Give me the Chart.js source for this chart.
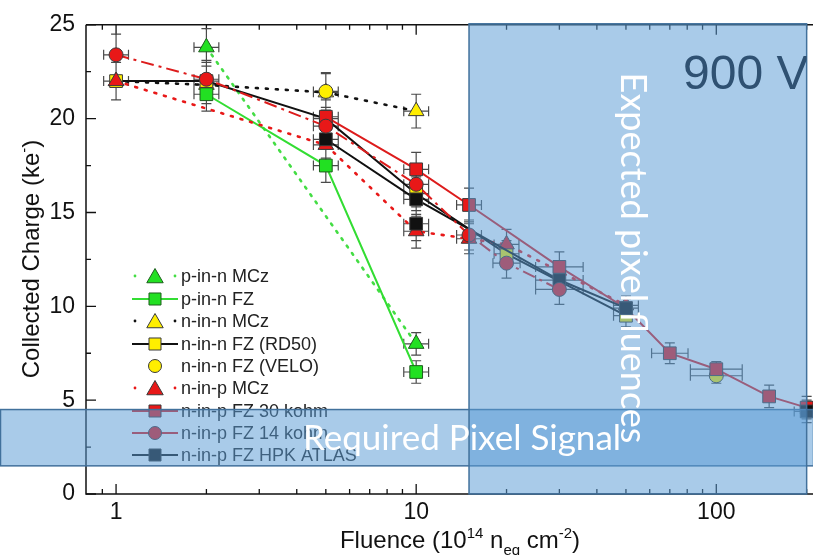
<!DOCTYPE html>
<html>
<head>
<meta charset="utf-8">
<script src="https://cdn.jsdelivr.net/npm/chart.js@4.4.0/dist/chart.umd.min.js"></script>
<style>
  html, body { margin: 0; padding: 0; background: #fff; }
  canvas { display: block; }
</style>
</head>
<body>
<canvas id="chargeChart" width="813" height="555"></canvas>
<script>
// Fluence in 10^14 neq/cm2, collected charge in ke-
const pinnMczX = [2, 10];
const pinnMczY = [23.8, 8.0];
const pinnMczErr = [1.0, 0.6];

const pinnFzX = [2, 5, 10];
const pinnFzY = [21.3, 17.5, 6.5];
const pinnFzErr = [0.9, 0.9, 0.6];

const ninnMczX = [1, 2, 5, 10];
const ninnMczY = [22.0, 21.8, 21.4, 20.4];
const ninnMczErr = [1.0, 1.0, 1.0, 0.9];

const rd50X = [1, 2, 5, 10, 20, 50];
const rd50Y = [22.0, 22.0, 20.0, 16.0, 12.8, 9.5];
const rd50Err = [1.0, 1.0, 1.0, 0.9, 0.7, 0.6];

const veloX = [5, 100];
const veloY = [21.45, 6.3];
const veloErr = [1.0, 0.4];
const veloXErr = [0.1, 0.22];

const ninpMczX = [1, 5, 10, 15, 20, 50];
const ninpMczY = [22.0, 18.6, 14.0, 13.6, 13.3, 10.05];
const ninpMczErr = [1.0, 1.0, 0.9, 0.8, 0.8, 0.5];

const fz30X = [5, 10, 15, 30, 50, 70, 100, 150, 200];
const fz30Y = [20.1, 17.3, 15.4, 12.1, 9.9, 7.5, 6.65, 5.2, 4.6];
const fz30Err = [1.0, 0.9, 0.9, 0.8, 0.5, 0.55, 0.4, 0.6, 0.6];
const fz30XErr = [0.1, 0.1, 0.1, 0.2, 0.1, 0.15, 0.22, 0, 0];

const fz14X = [1, 2, 5, 10, 15, 20, 30];
const fz14Y = [23.4, 22.1, 19.6, 16.5, 13.8, 12.3, 10.9];
const fz14Err = [1.1, 1.0, 1.0, 0.9, 0.8, 0.8, 0.8];
const fz14XErr = [0.1, 0.1, 0.1, 0.1, 0.1, 0.11, 0.2];

const hpkX = [5, 10, 30, 50];
const hpkY = [18.9, 15.7, 11.4, 9.9];
const hpkErr = [1.0, 0.9, 0.7, 0.5];
const hpkXErr = [0.1, 0.1, 0.2, 0.1];

const hpkExtraX = [10, 200];
const hpkExtraY = [14.4, 4.4];
const hpkExtraErr = [0.9, 0.6];

const xTickValues = [0.8, 0.9, 1, 2, 3, 4, 5, 6, 7, 8, 9, 10, 20, 30, 40, 50, 60, 70, 80, 90, 100, 200];
const xTickLabels = [1, 10, 100];
const yTickValues = [0, 2.5, 5, 7.5, 10, 12.5, 15, 17.5, 20, 22.5, 25];

const pixelFluenceRange = [15, 200];
const pixelSignalRange = [1.5, 4.5];

const FONT = "'Liberation Sans', Arial, sans-serif";
const GREEN = "#22e022";
const RED = "#e81818";
const YELLOW = "#ffee00";
const BLACK = "#111111";

function makePoints(xs, ys) {
  return xs.map((x, i) => ({ x: x, y: ys[i] }));
}

function makeSeries(label, xs, ys, yErr, xErr, st) {
  return {
    label: label,
    data: makePoints(xs, ys),
    yErr: yErr,
    xErr: xErr || xs.map(() => 0.1),
    showLine: st.line !== false,
    borderColor: st.lineColor,
    borderWidth: st.dash && st.dash[0] < 4 ? 2.6 : 2,
    borderDash: st.dash || [],
    borderCapStyle: st.dash && st.dash[0] < 4 ? "round" : "butt",
    pointStyle: st.marker,
    pointRadius: st.radius,
    pointBackgroundColor: st.fill,
    pointBorderColor: st.edge || "#3a3a3a",
    pointBorderWidth: 1,
    order: st.order,
    legendDots: st.dots || false
  };
}

const datasets = [
  makeSeries("p-in-n MCz", pinnMczX, pinnMczY, pinnMczErr, null,
    { lineColor: "#44dd44", dash: [2, 7], marker: "triangle", radius: 9, fill: GREEN, edge: "#1d5e1d", order: 8, dots: true }),
  makeSeries("p-in-n FZ", pinnFzX, pinnFzY, pinnFzErr, null,
    { lineColor: "#33dd33", marker: "rect", radius: 9, fill: GREEN, edge: "#1d5e1d", order: 7 }),
  makeSeries("n-in-n MCz", ninnMczX, ninnMczY, ninnMczErr, null,
    { lineColor: BLACK, dash: [2, 8], marker: "triangle", radius: 9, fill: YELLOW, order: 9, dots: true }),
  makeSeries("n-in-n FZ (RD50)", rd50X, rd50Y, rd50Err, null,
    { lineColor: BLACK, marker: "rect", radius: 9, fill: YELLOW, order: 6 }),
  makeSeries("n-in-n FZ (VELO)", veloX, veloY, veloErr, veloXErr,
    { lineColor: BLACK, line: false, marker: "circle", radius: 7, fill: YELLOW, order: 4 }),
  makeSeries("n-in-p MCz", ninpMczX, ninpMczY, ninpMczErr, null,
    { lineColor: RED, dash: [2, 8], marker: "triangle", radius: 9, fill: RED, order: 5, dots: true }),
  makeSeries("n-in-p FZ 30 kohm", fz30X, fz30Y, fz30Err, fz30XErr,
    { lineColor: "#dd1c1c", marker: "rect", radius: 9, fill: RED, order: 3 }),
  makeSeries("n-in-p FZ 14 kohm", fz14X, fz14Y, fz14Err, fz14XErr,
    { lineColor: "#dd1c1c", dash: [13, 5, 3, 5], marker: "circle", radius: 7, fill: RED, order: 1 }),
  makeSeries("n-in-p FZ HPK ATLAS", hpkX, hpkY, hpkErr, hpkXErr,
    { lineColor: BLACK, marker: "rect", radius: 9, fill: BLACK, order: 2 }),
  makeSeries("", hpkExtraX, hpkExtraY, hpkExtraErr, null,
    { lineColor: BLACK, line: false, marker: "rect", radius: 9, fill: BLACK, order: 2 })
];

// small marker painter for the legend
function drawMarker(ctx, style, x, y, r, fill, edge) {
  ctx.beginPath();
  if (style === "circle") {
    ctx.arc(x, y, r, 0, Math.PI * 2);
  } else if (style === "rect") {
    const s = r * Math.SQRT1_2;
    ctx.rect(x - s, y - s, 2 * s, 2 * s);
  } else {
    const w = r * Math.sin(Math.PI / 3);
    ctx.moveTo(x, y - r);
    ctx.lineTo(x + w, y + r / 2);
    ctx.lineTo(x - w, y + r / 2);
    ctx.closePath();
  }
  ctx.fillStyle = fill;
  ctx.fill();
  ctx.lineWidth = 1;
  ctx.strokeStyle = edge;
  ctx.stroke();
}

function drawRich(ctx, parts, cx, baseline) {
  let total = 0;
  parts.forEach(p => {
    ctx.font = p[2] + "px " + FONT;
    total += ctx.measureText(p[0]).width;
  });
  let x = cx - total / 2;
  parts.forEach(p => {
    ctx.font = p[2] + "px " + FONT;
    ctx.fillText(p[0], x, baseline + p[1]);
    x += ctx.measureText(p[0]).width;
  });
}

const framePlugin = {
  id: "frame",
  beforeDatasetsDraw(chart) {
    const ctx = chart.ctx;
    const a = chart.chartArea;
    const xs = chart.scales.x;
    const ys = chart.scales.y;
    ctx.save();
    ctx.strokeStyle = "#111";
    ctx.lineWidth = 1.5;
    ctx.beginPath();
    ctx.moveTo(a.left, a.top);
    ctx.lineTo(a.right, a.top);
    ctx.moveTo(a.left, a.top);
    ctx.lineTo(a.left, a.bottom);
    ctx.lineTo(a.right, a.bottom);
    ctx.stroke();

    // inward ticks
    ctx.lineWidth = 1.3;
    ctx.beginPath();
    xTickValues.forEach(v => {
      const px = xs.getPixelForValue(v);
      if (px < a.left + 1) return;
      const len = xTickLabels.includes(v) ? 10 : 5;
      ctx.moveTo(px, a.bottom);
      ctx.lineTo(px, a.bottom - len);
      ctx.moveTo(px, a.top);
      ctx.lineTo(px, a.top + len);
    });
    yTickValues.forEach(v => {
      const py = ys.getPixelForValue(v);
      const len = v % 5 === 0 ? 10 : 5;
      ctx.moveTo(a.left, py);
      ctx.lineTo(a.left + len, py);
    });
    ctx.stroke();

    // error bars
    ctx.strokeStyle = "#4a4a4a";
    ctx.lineWidth = 1.2;
    ctx.beginPath();
    chart.data.datasets.forEach(ds => {
      ds.data.forEach((p, i) => {
        const px = xs.getPixelForValue(p.x);
        const yt = ys.getPixelForValue(p.y + ds.yErr[i]);
        const yb = ys.getPixelForValue(p.y - ds.yErr[i]);
        ctx.moveTo(px, yt); ctx.lineTo(px, yb);
        ctx.moveTo(px - 5, yt); ctx.lineTo(px + 5, yt);
        ctx.moveTo(px - 5, yb); ctx.lineTo(px + 5, yb);
        const e = ds.xErr[i];
        if (e > 0) {
          const py = ys.getPixelForValue(p.y);
          const xl = xs.getPixelForValue(p.x / (1 + e));
          const xr = xs.getPixelForValue(p.x * (1 + e));
          ctx.moveTo(xl, py); ctx.lineTo(xr, py);
          ctx.moveTo(xl, py - 5); ctx.lineTo(xl, py + 5);
          ctx.moveTo(xr, py - 5); ctx.lineTo(xr, py + 5);
        }
      });
    });
    ctx.stroke();
    ctx.restore();
  },
  afterDatasetsDraw(chart) {
    const ctx = chart.ctx;
    const a = chart.chartArea;
    const xs = chart.scales.x;
    const ys = chart.scales.y;
    ctx.save();

    // legend inside the plot
    const rowY = [276, 299, 321, 344, 366, 388, 411, 433, 455];
    chart.data.datasets.slice(0, 9).forEach((ds, i) => {
      const y = rowY[i];
      if (ds.legendDots) {
        ctx.fillStyle = ds.borderColor;
        [135, 175].forEach(x => { ctx.beginPath(); ctx.arc(x, y, 1.4, 0, Math.PI * 2); ctx.fill(); });
      } else if (ds.showLine) {
        ctx.strokeStyle = ds.borderColor;
        ctx.lineWidth = 2.2;
        ctx.beginPath(); ctx.moveTo(132, y); ctx.lineTo(178, y); ctx.stroke();
      }
      const r = ds.pointStyle === "circle" ? 6.5 : (ds.pointStyle === "rect" ? 8.5 : 9.5);
      drawMarker(ctx, ds.pointStyle, 155, ds.pointStyle === "triangle" ? y + 2 : y, r, ds.pointBackgroundColor, ds.pointBorderColor);
      ctx.fillStyle = "#222";
      ctx.font = "18px " + FONT;
      ctx.textBaseline = "middle";
      ctx.fillText(ds.label, 181, y + 1);
    });

    // shaded regions
    const bandTop = ys.getPixelForValue(pixelSignalRange[1]);
    const bandBot = ys.getPixelForValue(pixelSignalRange[0]);
    ctx.fillStyle = "rgba(91,155,213,0.52)";
    ctx.strokeStyle = "#41719c";
    ctx.lineWidth = 1.5;
    ctx.fillRect(0, bandTop, chart.width, bandBot - bandTop);
    ctx.strokeRect(0.5, bandTop, chart.width, bandBot - bandTop);

    const boxL = xs.getPixelForValue(pixelFluenceRange[0]);
    const boxR = xs.getPixelForValue(pixelFluenceRange[1]);
    ctx.fillRect(boxL, a.top - 1, boxR - boxL, a.bottom - a.top + 1);
    ctx.strokeRect(boxL, a.top - 1, boxR - boxL, a.bottom - a.top + 1);

    ctx.fillStyle = "#ffffff";
    ctx.textAlign = "center";
    ctx.textBaseline = "middle";
    ctx.font = "35px Lato, 'Open Sans', sans-serif";
    ctx.fillText("Required Pixel Signal", 462, (bandTop + bandBot) / 2 + 1);

    ctx.save();
    ctx.translate(633, 258);
    ctx.rotate(Math.PI / 2);
    ctx.font = "36px Lato, 'Open Sans', sans-serif";
    ctx.fillText("Expected pixel fluences", 0, 0);
    ctx.restore();

    // voltage label, cut at the box edge
    ctx.save();
    ctx.beginPath();
    ctx.rect(boxL, a.top, boxR - boxL, a.bottom - a.top);
    ctx.clip();
    ctx.textAlign = "left";
    ctx.textBaseline = "alphabetic";
    ctx.fillStyle = "#2f5172";
    ctx.font = "48px " + FONT;
    ctx.fillText("900 V", 683, 89);
    ctx.restore();
    ctx.restore();
  },
  afterDraw(chart) {
    const ctx = chart.ctx;
    ctx.save();
    ctx.fillStyle = "#111";
    ctx.textAlign = "left";
    ctx.textBaseline = "alphabetic";
    drawRich(ctx, [["Fluence (10", 0, 24], ["14", -10, 15], [" n", 0, 24], ["eq", 7, 15],
      [" cm", 0, 24], ["-2", -10, 15], [")", 0, 24]], 460, 548);
    ctx.translate(39, 259);
    ctx.rotate(-Math.PI / 2);
    drawRich(ctx, [["Collected Charge (ke", 0, 24], ["-", -10, 15], [")", 0, 24]], 0, 0);
    ctx.restore();
  }
};

const ctx = document.getElementById("chargeChart").getContext("2d");
const chargeChart = new Chart(ctx, {
  type: "scatter",
  data: { datasets: datasets },
  options: {
    responsive: false,
    animation: false,
    layout: { autoPadding: false, padding: { top: 19, left: 0, right: 0, bottom: 0 } },
    plugins: {
      legend: { display: false },
      tooltip: { enabled: false }
    },
    scales: {
      x: {
        type: "logarithmic",
        min: 0.794,
        max: 210,
        grid: { display: false, drawTicks: false },
        border: { display: false },
        afterBuildTicks: scale => { scale.ticks = xTickValues.map(v => ({ value: v })); },
        afterFit: scale => {
          scale.height = 61;
          scale.paddingLeft = 0;
          scale.paddingRight = 0;
        },
        ticks: {
          autoSkip: false,
          maxRotation: 0,
          padding: 5,
          color: "#111",
          font: { family: FONT, size: 23 },
          callback: v => xTickLabels.includes(v) ? String(v) : ""
        }
      },
      y: {
        min: 0,
        max: 25,
        grid: { display: false, drawTicks: false },
        border: { display: false },
        afterBuildTicks: scale => { scale.ticks = yTickValues.map(v => ({ value: v })); },
        afterFit: scale => { scale.width = 86; },
        ticks: {
          autoSkip: false,
          padding: 11,
          color: "#111",
          font: { family: FONT, size: 23 },
          callback: v => v % 5 === 0 ? String(v) : ""
        }
      }
    }
  },
  plugins: [framePlugin]
});
</script>
</body>
</html>
